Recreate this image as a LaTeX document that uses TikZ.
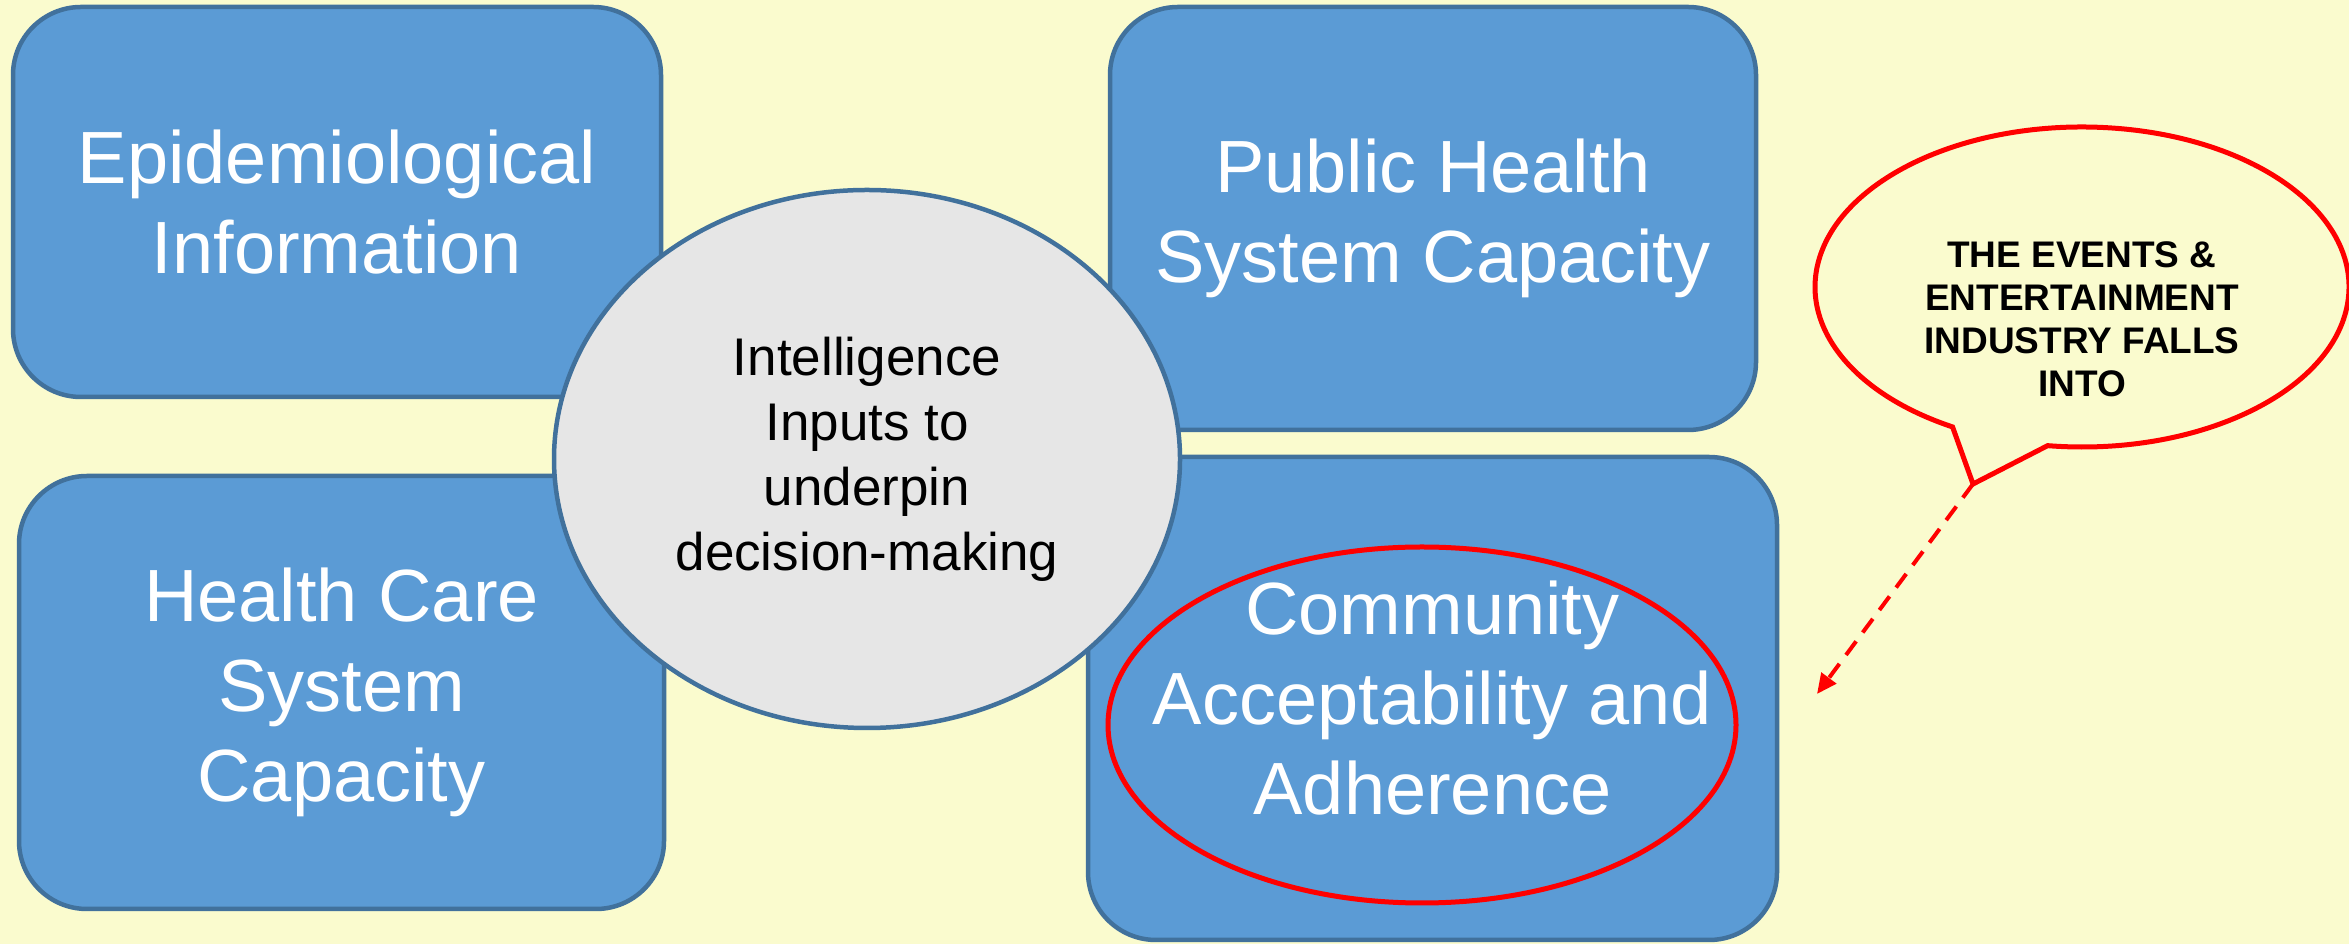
\documentclass[tikz,border=0pt]{standalone}
\usepackage{fontspec}
\setmainfont{Liberation Sans}
\usetikzlibrary{arrows.meta,shapes.geometric}
\definecolor{bg}{RGB}{250,251,206}
\definecolor{boxblue}{RGB}{91,155,213}
\definecolor{boxedge}{RGB}{65,113,156}
\definecolor{ellfill}{RGB}{230,230,230}
\definecolor{cred}{RGB}{255,0,0}
\begin{document}
\begin{tikzpicture}[x=1pt,y=1pt,
  bluebox/.style={draw=boxedge, line width=4.5pt, fill=boxblue, rounded corners=68pt,
    inner sep=0pt, text=white, align=center, font=\fontsize{74}{90}\selectfont},
  centerell/.style={ellipse, draw=boxedge, line width=4.5pt, fill=ellfill, inner sep=0pt,
    align=center, font=\fontsize{53}{65}\selectfont},
  redring/.style={ellipse, draw=cred, line width=5pt, inner sep=0pt},
  callouttext/.style={align=center, font=\fontsize{37}{43}\selectfont\bfseries},
  calloutline/.style={draw=cred, line width=5pt, fill=bg, line join=miter},
  arrowline/.style={draw=cred, line width=4pt, dash pattern=on 17pt off 11pt,
    -{Triangle[length=20pt,width=18pt]}}
]
\useasboundingbox (0,0) rectangle (2349,944);
\fill[bg] (0,0) rectangle (2349,944);

\node[bluebox, minimum width=648pt, minimum height=390pt] (epi) at (337,742)
  {Epidemiological\\Information};
\node[bluebox, minimum width=646pt, minimum height=423pt] (pub) at (1433,725.5)
  {Public Health\\System Capacity};
\node[bluebox, minimum width=645pt, minimum height=433pt] (hcs) at (341.5,251.5)
  {Health Care\\System\\Capacity};
\node[bluebox, minimum width=689pt, minimum height=483pt] (com) at (1432.5,245.5)
  {Community\\Acceptability and\\Adherence};

\node[centerell, minimum width=626pt, minimum height=538pt] (intel) at (867,485)
  {Intelligence\\Inputs to\\underpin\\decision-making};

\node[redring, minimum width=628pt, minimum height=356pt] (ring) at (1422,219) {};

% callout bubble
\coordinate (bubc) at (2082,657);
\coordinate (tip) at (1973,460);
\path[calloutline] (bubc) ++(262.6:267 and 160)
  arc[start angle=262.6, end angle=601, x radius=267, y radius=160]
  -- (tip) -- cycle;
\node[callouttext] (callout) at (2082,625)
  {THE EVENTS \&\\ENTERTAINMENT\\INDUSTRY FALLS\\INTO};

\coordinate (arrend) at (1817,250);
\draw[arrowline] (tip) -- (arrend);
\end{tikzpicture}
\end{document}
